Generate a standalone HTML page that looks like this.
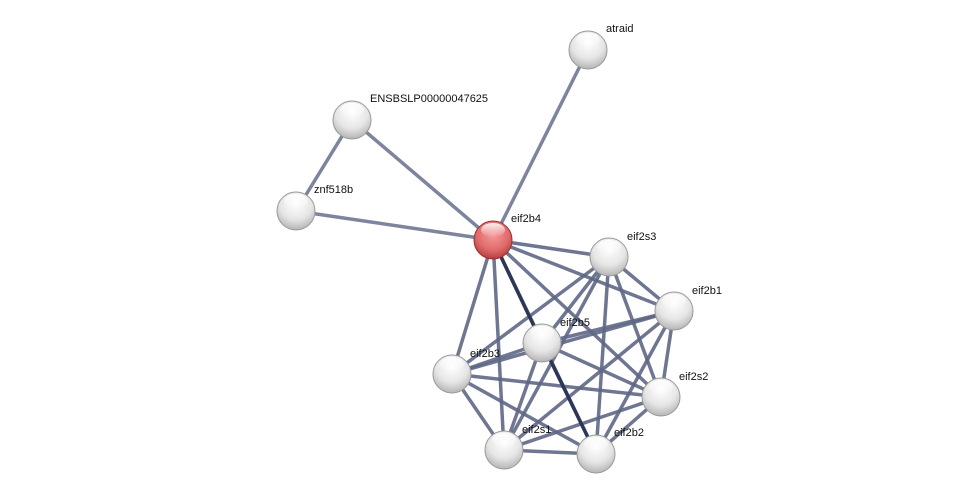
<!DOCTYPE html><html><head><style>body{margin:0;background:#fff}svg{display:block}text{font-family:"Liberation Sans",Arial,sans-serif;font-size:11px;fill:#111}</style></head><body>
<svg width="975" height="499" viewBox="0 0 975 499" xmlns="http://www.w3.org/2000/svg">
<defs>
<radialGradient id="g" cx="0.5" cy="0.3" r="0.7"><stop offset="0" stop-color="#ffffff"/><stop offset="0.6" stop-color="#e6e6e6"/><stop offset="1" stop-color="#b5b5b5"/></radialGradient>
<radialGradient id="r" cx="0.5" cy="0.35" r="0.7"><stop offset="0" stop-color="#f59a9a"/><stop offset="0.6" stop-color="#e06a6a"/><stop offset="1" stop-color="#a83535"/></radialGradient>
<linearGradient id="h" x1="0" y1="0" x2="0" y2="1"><stop offset="0" stop-color="#fff" stop-opacity="0.9"/><stop offset="1" stop-color="#fff" stop-opacity="0"/></linearGradient>
</defs>
<g stroke="#7d849e" stroke-width="3.5">
<line x1="588" y1="50" x2="493" y2="240"/>
<line x1="352" y1="120" x2="296" y2="211"/>
<line x1="352" y1="120" x2="493" y2="240"/>
<line x1="296" y1="211" x2="493" y2="240"/>
</g>
<g stroke="#5e6785" stroke-width="3.5" stroke-opacity="0.9">
<line x1="493" y1="240" x2="609" y2="257"/>
<line x1="493" y1="240" x2="674" y2="311"/>
<line x1="493" y1="240" x2="452" y2="374"/>
<line x1="493" y1="240" x2="661" y2="397"/>
<line x1="493" y1="240" x2="504" y2="450"/>
<line x1="493" y1="240" x2="596" y2="454"/>
<line x1="609" y1="257" x2="674" y2="311"/>
<line x1="609" y1="257" x2="542" y2="343"/>
<line x1="609" y1="257" x2="452" y2="374"/>
<line x1="609" y1="257" x2="661" y2="397"/>
<line x1="609" y1="257" x2="504" y2="450"/>
<line x1="609" y1="257" x2="596" y2="454"/>
<line x1="674" y1="311" x2="542" y2="343"/>
<line x1="674" y1="311" x2="452" y2="374"/>
<line x1="674" y1="311" x2="661" y2="397"/>
<line x1="674" y1="311" x2="504" y2="450"/>
<line x1="674" y1="311" x2="596" y2="454"/>
<line x1="542" y1="343" x2="452" y2="374"/>
<line x1="542" y1="343" x2="661" y2="397"/>
<line x1="542" y1="343" x2="504" y2="450"/>
<line x1="452" y1="374" x2="661" y2="397"/>
<line x1="452" y1="374" x2="504" y2="450"/>
<line x1="452" y1="374" x2="596" y2="454"/>
<line x1="661" y1="397" x2="504" y2="450"/>
<line x1="661" y1="397" x2="596" y2="454"/>
<line x1="504" y1="450" x2="596" y2="454"/>
</g>
<g stroke="#2c3655" stroke-width="3.5">
<line x1="493" y1="240" x2="542" y2="343"/>
<line x1="542" y1="343" x2="596" y2="454"/>
</g>
<g stroke="#999" stroke-width="1">
<circle cx="588" cy="50" r="19" fill="url(#g)"/>
<circle cx="352" cy="120" r="19" fill="url(#g)"/>
<circle cx="296" cy="211" r="19" fill="url(#g)"/>
<circle cx="493" cy="240" r="19" fill="url(#r)" stroke="#9a3030"/>
<circle cx="609" cy="257" r="19" fill="url(#g)"/>
<circle cx="674" cy="311" r="19" fill="url(#g)"/>
<circle cx="542" cy="343" r="19" fill="url(#g)"/>
<circle cx="452" cy="374" r="19" fill="url(#g)"/>
<circle cx="661" cy="397" r="19" fill="url(#g)"/>
<circle cx="504" cy="450" r="19" fill="url(#g)"/>
<circle cx="596" cy="454" r="19" fill="url(#g)"/>
</g>
<g fill="url(#h)">
<ellipse cx="588" cy="40" rx="12" ry="7"/>
<ellipse cx="352" cy="110" rx="12" ry="7"/>
<ellipse cx="296" cy="201" rx="12" ry="7"/>
<ellipse cx="493" cy="230" rx="12" ry="7"/>
<ellipse cx="609" cy="247" rx="12" ry="7"/>
<ellipse cx="674" cy="301" rx="12" ry="7"/>
<ellipse cx="542" cy="333" rx="12" ry="7"/>
<ellipse cx="452" cy="364" rx="12" ry="7"/>
<ellipse cx="661" cy="387" rx="12" ry="7"/>
<ellipse cx="504" cy="440" rx="12" ry="7"/>
<ellipse cx="596" cy="444" rx="12" ry="7"/>
</g>
<text x="606" y="32">atraid</text>
<text x="370" y="102">ENSBSLP00000047625</text>
<text x="314" y="193">znf518b</text>
<text x="511" y="222">eif2b4</text>
<text x="627" y="240">eif2s3</text>
<text x="692" y="294">eif2b1</text>
<text x="560" y="326">eif2b5</text>
<text x="470" y="357">eif2b3</text>
<text x="679" y="380">eif2s2</text>
<text x="522" y="433">eif2s1</text>
<text x="614" y="436">eif2b2</text>
</svg></body></html>
